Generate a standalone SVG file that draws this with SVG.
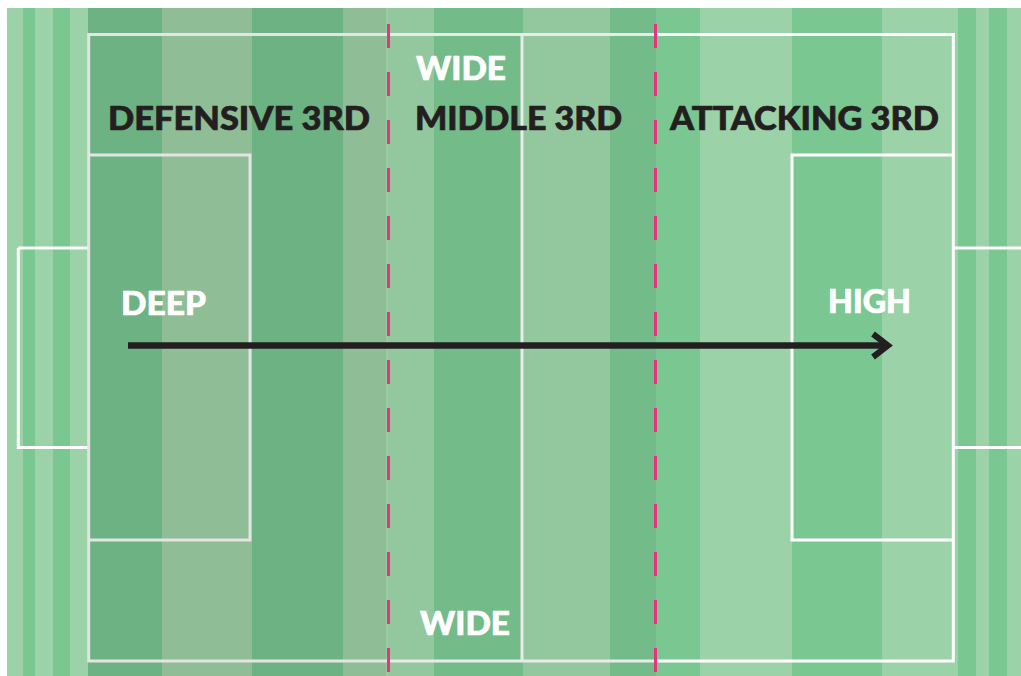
<svg xmlns="http://www.w3.org/2000/svg" width="1021" height="676" viewBox="0 0 1021 676">
<style>
.lbl{font-family:Lato,"Open Sans","Liberation Sans",sans-serif;font-weight:900;font-size:32px;stroke-width:0.7;stroke-linejoin:round}
.dark{fill:#231f20;stroke:#231f20}
.wht{fill:#ffffff;stroke:#ffffff}
.ln{fill:none;stroke-width:3}
.pink{stroke:#e6347f;stroke-width:3;stroke-dasharray:24 24}
</style>
<rect width="1021" height="676" fill="#ffffff"/>
<g id="pitch">
<rect x="7" y="8" width="81" height="668" fill="#9bd2a8"/>
<rect x="23" y="8" width="12" height="668" fill="#7ac792"/>
<rect x="53" y="8" width="17" height="668" fill="#7ac792"/>
<rect x="88" y="8" width="74" height="668" fill="#6db283"/>
<rect x="162" y="8" width="90" height="668" fill="#8ebd96"/>
<rect x="252" y="8" width="91" height="668" fill="#6db283"/>
<rect x="343" y="8" width="45" height="668" fill="#8ebd96"/>
<rect x="388" y="8" width="46" height="668" fill="#93c79e"/>
<rect x="434" y="8" width="89" height="668" fill="#74bb8a"/>
<rect x="523" y="8" width="87" height="668" fill="#93c79e"/>
<rect x="610" y="8" width="46" height="668" fill="#74bb8a"/>
<rect x="656" y="8" width="44" height="668" fill="#7ac792"/>
<rect x="700" y="8" width="92" height="668" fill="#9bd2a8"/>
<rect x="792" y="8" width="90" height="668" fill="#7ac792"/>
<rect x="882" y="8" width="76" height="668" fill="#9bd2a8"/>
<rect x="958" y="8" width="18" height="668" fill="#7ac792"/>
<rect x="976" y="8" width="13" height="668" fill="#9bd2a8"/>
<rect x="989" y="8" width="18" height="668" fill="#7ac792"/>
<rect x="1007" y="8" width="14" height="668" fill="#9bd2a8"/>
<rect x="386.5" y="8" width="1.2" height="668" fill="#a6d2ae"/>
</g>
<g id="lines">
<path class="ln" stroke="#ffffff" d="M18.3 248 H88.7 M18.3 248 V447.5 H88.7"/>
<path class="ln" stroke="#e4e4e4" d="M388 34.5 H88.7 V661 H388 M88.7 155 H250 V540 H88.7"/>
<path class="ln" stroke="#eaeaea" d="M388 34.5 H656 M388 661 H656 M522 34.5 V661"/>
<path class="ln" stroke="#ffffff" d="M656 34.5 H953.3 V661 H656 M953.3 155 H792 V540 H953.3 M953.3 248 H1021 M953.3 447.5 H1021"/>
</g>
<g id="dividers">
<line class="pink" x1="388.5" y1="24" x2="388.5" y2="676"/>
<line class="pink" x1="655.5" y1="24" x2="655.5" y2="676"/>
</g>
<g id="label-defensive"><text class="lbl dark" x="108" y="130" textLength="262" lengthAdjust="spacingAndGlyphs">DEFENSIVE 3RD</text></g>
<g id="label-middle"><text class="lbl dark" x="415" y="130" textLength="207" lengthAdjust="spacingAndGlyphs">MIDDLE 3RD</text></g>
<g id="label-attacking"><text class="lbl dark" x="670" y="130" textLength="269" lengthAdjust="spacingAndGlyphs">ATTACKING 3RD</text></g>
<g id="label-wide-top"><text class="lbl wht" x="416" y="80" textLength="90" lengthAdjust="spacingAndGlyphs">WIDE</text></g>
<g id="label-wide-bottom"><text class="lbl wht" x="420" y="635" textLength="90" lengthAdjust="spacingAndGlyphs">WIDE</text></g>
<g id="label-deep"><text class="lbl wht" x="121" y="315" textLength="85" lengthAdjust="spacingAndGlyphs">DEEP</text></g>
<g id="label-high"><text class="lbl wht" x="828" y="313" textLength="83" lengthAdjust="spacingAndGlyphs">HIGH</text></g>
<g id="connectors">
<line x1="128" y1="345.5" x2="886" y2="345.5" stroke="#231f20" stroke-width="6.5"/>
<polyline points="873,334 888,345.5 873,357" fill="none" stroke="#231f20" stroke-width="6" stroke-linecap="butt" stroke-linejoin="miter"/>
</g>
</svg>
